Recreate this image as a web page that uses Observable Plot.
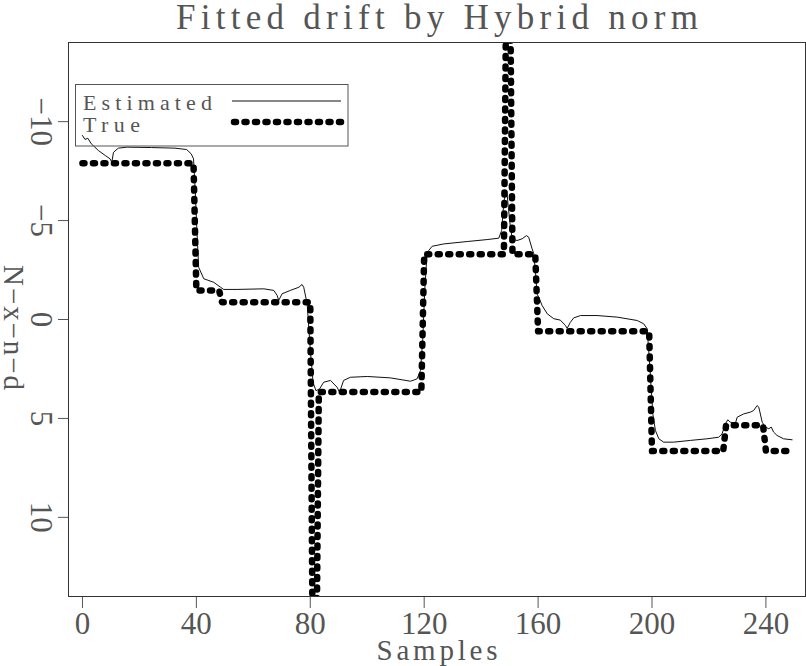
<!DOCTYPE html>
<html><head><meta charset="utf-8">
<script src="https://cdn.jsdelivr.net/npm/d3@7"></script>
<script src="https://cdn.jsdelivr.net/npm/@observablehq/plot@0.6"></script>
<style>
body{margin:0;background:#fff;}
#wrap{position:relative;width:806px;height:666px;overflow:hidden;}
#wrap svg{display:block;}
#legend{position:absolute;left:0;top:0;pointer-events:none;}
</style></head><body><div id="wrap"></div>
<script>
// ---- data ----
const title = "Fitted drift by Hybrid norm";
const xLabel = "Samples";
const yLabel = "N\u2212x\u2212n\u2212d";
const seriesNames = ["Estimated", "True"];
const xTicks = [0, 40, 80, 120, 160, 200, 240];
const yTicks = [-10, -5, 0, 5, 10];

// "True" drift (sample, value)
const trueX = [0, 39, 40, 48, 49, 80, 81, 82, 83, 119, 120, 148, 149, 150, 151, 159, 160, 199, 200, 225, 226, 239, 240, 249];
const trueY = [-7.9, -7.9, -1.47, -1.47, -0.87, -0.87, 20, 20, 3.67, 3.67, -3.3, -3.3, -20, -20, -3.3, -3.3, 0.6, 0.6, 6.65, 6.65, 5.35, 5.35, 6.65, 6.65];

// "Estimated" drift (sample, value)
const estX = [0, 0.9, 1.9, 3.1, 5.6, 8.0, 9.7, 10.3, 10.9, 12.6, 15.6, 24.3, 32.5, 36.6, 38.2, 39,
  39.6, 40.2, 40.8,
  42.6, 46.1, 48.5, 49.6, 54.3, 63.7, 67.2, 68.4, 68.9, 70.1, 73.0, 76.0, 77.1, 77.7, 78.9,
  80, 81, 82, 83.3,
  84.7, 87.1, 89.4, 90.3, 91.7, 94.1, 100, 108.1, 115.2, 117.5, 118.7,
  119.5, 120.2, 120.9, 121.6,
  122.8, 126.9, 135.1, 142.1, 146.2, 147.2, 148, 149, 150, 150.9, 152.6, 154.4, 155.9, 156.7, 157.9, 158.5,
  159.2,
  159.6, 160.2, 161.4, 163.2, 165.5, 167.8, 169.6, 170.2, 171.3, 172.5, 174.9, 180.7, 187.8, 194.8, 197.1, 198.3,
  199.3, 200.3, 201.2,
  202.4, 204.1, 207.6, 213.5, 219.3, 223.4, 224.6, 225.8, 226.6, 227.5, 229.3, 229.9, 232.2, 234.6, 235.7, 236.9, 237.5, 238.7, 239.8, 241, 241.9, 242.7, 243.9, 246.2, 249.2];
const estY = [-9.30, -9.10, -9.16, -8.88, -8.54, -8.29, -8.12, -7.95, -8.45, -8.66, -8.71, -8.69, -8.66, -8.59, -8.37, -8.12,
  -6.5, -4.5, -2.64,
  -2.06, -1.88, -1.63, -1.52, -1.52, -1.55, -1.47, -1.21, -0.96, -1.30, -1.47, -1.63, -1.77, -1.63, -0.79,
  1.5, 3.2, 3.6, 3.50,
  3.17, 3.08, 3.42, 3.67, 3.08, 2.92, 2.88, 2.95, 3.12, 3.0, 2.58,
  1.0, -1.5, -3.1, -3.49,
  -3.70, -3.82, -3.94, -4.04, -4.11, -4.5, -6, -6.5, -5, -4.08, -3.99, -4.08, -4.24, -4.16, -3.57, -3.32,
  -2.2,
  -1.30, -1.13, -0.71, -0.29, -0.04, 0.03, 0.30, 0.45, 0.15, -0.08, -0.2, -0.2, -0.12, 0.05, 0.22, 0.47,
  2.5, 4.8, 5.61,
  6.03, 6.20, 6.20, 6.11, 6.03, 5.95, 5.78, 5.27, 5.07, 5.19, 5.24, 4.94, 4.77, 4.68, 4.60, 4.35, 4.43, 5.19, 5.44, 5.52, 5.44, 5.69, 5.86, 6.03, 6.08];

// ---- chart ----
const font = "'Liberation Serif', 'Times New Roman', serif";
const textColor = "#555";
const trueData = trueX.map((x, i) => ({x, y: trueY[i]}));
const estData = estX.map((x, i) => ({x, y: estY[i]}));
const fmt = d => (d < 0 ? "\u2212" : "") + Math.abs(d);
const dotted = {stroke: "black", strokeWidth: 6.5, strokeDasharray: "2,8.5", strokeLinecap: "round", strokeLinejoin: "round"};

const chart = Plot.plot({
  width: 806, height: 666,
  marginLeft: 68, marginRight: 1, marginTop: 42, marginBottom: 70,
  style: {fontFamily: font, background: "white", color: "#555"},
  x: {domain: [-4.9, 253.9], axis: null},
  y: {domain: [-14, 14], reverse: true, axis: null},
  marks: [
    Plot.axisX(xTicks, {tickSize: 12, tickFormat: () => "", label: null, strokeWidth: 1}),
    Plot.axisY(yTicks, {tickSize: 10, tickFormat: () => "", label: null, strokeWidth: 1}),
    Plot.text(xTicks, {x: d => d, text: d => String(d), frameAnchor: "bottom", dy: 28, fontSize: 31, lineAnchor: "middle", fill: textColor}),
    Plot.text(yTicks, {y: d => d, text: fmt, frameAnchor: "left", dx: -28, rotate: 90, fontSize: 31, textAnchor: "middle", lineAnchor: "middle", fill: textColor}),
    Plot.text([title], {text: d => d, frameAnchor: "top", dy: -24.5, fontSize: 35, lineAnchor: "middle", fill: textColor}),
    Plot.text([xLabel], {text: d => d, frameAnchor: "bottom", dy: 54, fontSize: 29, lineAnchor: "middle", fill: textColor}),
    Plot.text([yLabel], {text: d => d, frameAnchor: "left", dx: -55.5, dy: 8, rotate: 90, fontSize: 29, textAnchor: "middle", lineAnchor: "middle", fill: textColor}),
    Plot.line(estData, {x: "x", y: "y", stroke: "#111", strokeWidth: 1, clip: true}),
    Plot.line(trueData, {x: "x", y: "y", ...dotted, clip: true}),
    Plot.frame({stroke: "#333", strokeWidth: 1})
  ]
});

const wrap = document.getElementById("wrap");
wrap.appendChild(chart);

// stretch Hershey-like wide text
const widths = {[title]: 522, [xLabel]: 121, [yLabel]: 125};
chart.querySelectorAll("text").forEach(t => {
  const w = widths[t.textContent];
  if (w) { t.setAttribute("textLength", w); t.setAttribute("lengthAdjust", "spacing"); }
});

// legend (overlay)
const lg = d3.select(wrap).append("svg").attr("id", "legend").attr("width", 806).attr("height", 666)
  .style("font-family", font);
lg.append("rect").attr("x", 75.5).attr("y", 84.5).attr("width", 272.5).attr("height", 61.5)
  .attr("fill", "none").attr("stroke", "#555");
lg.append("text").attr("x", 83).attr("y", 110).attr("font-size", 22).attr("fill", textColor)
  .attr("textLength", 129).attr("lengthAdjust", "spacing").text(seriesNames[0]);
lg.append("text").attr("x", 83).attr("y", 132).attr("font-size", 22).attr("fill", textColor)
  .attr("textLength", 57).attr("lengthAdjust", "spacing").text(seriesNames[1]);
lg.append("line").attr("x1", 232).attr("x2", 341).attr("y1", 101).attr("y2", 101)
  .attr("stroke", "#111").attr("stroke-width", 1);
lg.append("line").attr("x1", 234).attr("x2", 342).attr("y1", 122).attr("y2", 122)
  .attr("stroke", dotted.stroke).attr("stroke-width", dotted.strokeWidth)
  .attr("stroke-dasharray", dotted.strokeDasharray).attr("stroke-linecap", "round");
</script></body></html>
